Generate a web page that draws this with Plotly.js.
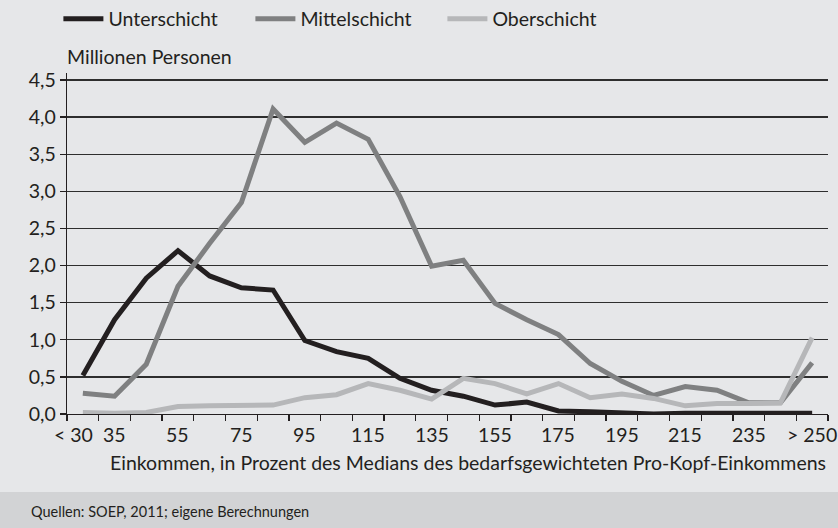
<!DOCTYPE html>
<html>
<head>
<meta charset="utf-8">
<script src="https://cdn.plot.ly/plotly-3.0.1.min.js"></script>
<style>
html,body{margin:0;padding:0;background:#e6e7e9;}
#chart{width:838px;height:528px;}
</style>
</head>
<body>
<div id="chart"></div>
<script>
// Income classes (percent of median need-weighted per-capita income)
var categories = ["< 30","35","45","55","65","75","85","95","105","115","125","135","145","155","165","175","185","195","205","215","225","235","245","> 250"];
var tickLabels = ["< 30","35","55","75","95","115","135","155","175","195","215","235","> 250"];

// Million persons
var unterschicht = [0.52,1.27,1.83,2.20,1.86,1.70,1.67,0.99,0.84,0.75,0.48,0.32,0.24,0.12,0.16,0.04,0.03,0.01,0.00,0.01,0.01,0.00,0.01,0.01];
var mittelschicht = [0.28,0.24,0.67,1.72,2.30,2.85,4.11,3.66,3.92,3.70,2.93,1.99,2.07,1.49,1.27,1.07,0.68,0.44,0.25,0.37,0.32,0.15,0.15,0.69];
var oberschicht = [0.02,0.01,0.02,0.10,0.11,0.11,0.12,0.22,0.26,0.41,0.32,0.20,0.48,0.41,0.27,0.41,0.22,0.27,0.21,0.11,0.14,0.14,0.15,1.03];

var seriesNames = ["Unterschicht","Mittelschicht","Oberschicht"];
var seriesColors = ["#231f20","#7f8081","#b6b7b9"];
var seriesValues = [unterschicht, mittelschicht, oberschicht];

var xIdx = categories.map(function(c,i){return i;});
var tickPos = tickLabels.map(function(t){return categories.indexOf(t);});
tickPos[0] = tickPos[0] - 0.3; // "< 30" label sits slightly left in the original
var boundaries = xIdx.map(function(i){return i-0.5;}).concat([categories.length-0.5]);
var xRange = [-0.5, categories.length-0.5];

var traces = seriesValues.map(function(vals,k){
  return {
    type:'scatter', mode:'lines', name:seriesNames[k],
    x:xIdx, y:vals,
    line:{color:seriesColors[k], width:5, shape:'linear'},
    hoverinfo:'skip'
  };
});

var FONT = 'Lato, "Open Sans", sans-serif';
var TXT = '#231f20';
var FS = 19.5;

// category labels centred between the boundary ticks (placed through the x scale)
var labelAnnotations = tickLabels.map(function(t,i){
  return {xref:'x', yref:'paper', x:tickPos[i], y:0, xanchor:'center', yanchor:'top', yshift:-7,
          showarrow:false, text:t, font:{family:FONT, size:FS, color:TXT}};
});

var layout = {
  width:838, height:528,
  paper_bgcolor:'#e6e7e9', plot_bgcolor:'#e6e7e9',
  margin:{l:67, r:10, t:73, b:114, autoexpand:false},
  separators:',.',
  font:{family:FONT, size:FS, color:TXT},
  showlegend:true,
  legend:{orientation:'h', x:-0.0113, xanchor:'left', y:1.158, yanchor:'middle',
          font:{family:FONT, size:FS, color:TXT}, bgcolor:'rgba(0,0,0,0)',
          itemwidth:40, entrywidth:137, traceorder:'normal'},
  xaxis:{
    range:xRange, showgrid:false, zeroline:false,
    showline:true, linecolor:'#231f20', linewidth:1.3,
    tickmode:'array', tickvals:boundaries, showticklabels:false,
    ticks:'outside', ticklen:6, tickwidth:1.3, tickcolor:'#231f20',
    fixedrange:true
  },
  yaxis:{
    range:[0, 4.594], tickmode:'linear', tick0:0, dtick:0.5, tickformat:'.1f',
    showgrid:true, gridcolor:'#2e2e2e', gridwidth:1.3, zeroline:false,
    showline:true, linecolor:'#231f20', linewidth:1.3,
    ticks:'outside', ticklen:6, tickwidth:1.3, tickcolor:'#231f20',
    tickfont:{family:FONT, size:FS, color:TXT},
    fixedrange:true
  },
  shapes:[
    {type:'rect', xref:'paper', yref:'paper', x0:-0.1, x1:1.02, y0:-0.2287, y1:-0.34, fillcolor:'#d2d3d5', line:{width:0}, layer:'below'}
  ],
  annotations:[
    {xref:'paper', yref:'paper', x:-0.003, y:1.047, xanchor:'left', yanchor:'middle', showarrow:false,
     text:'Millionen Personen', font:{family:FONT, size:FS, color:TXT}},
    {xref:'paper', yref:'paper', x:1.0, y:-0.1408, xanchor:'right', yanchor:'middle', showarrow:false,
     text:'Einkommen, in Prozent des Medians des bedarfsgewichteten Pro-Kopf-Einkommens', font:{family:FONT, size:FS, color:TXT}},
    {xref:'paper', yref:'paper', x:-0.05, y:-0.2865, xanchor:'left', yanchor:'middle', showarrow:false,
     text:'Quellen: SOEP, 2011; eigene Berechnungen', font:{family:FONT, size:14.5, color:TXT}}
  ].concat(labelAnnotations)
};

Plotly.newPlot('chart', traces, layout, {displayModeBar:false, staticPlot:true});
</script>
</body>
</html>
